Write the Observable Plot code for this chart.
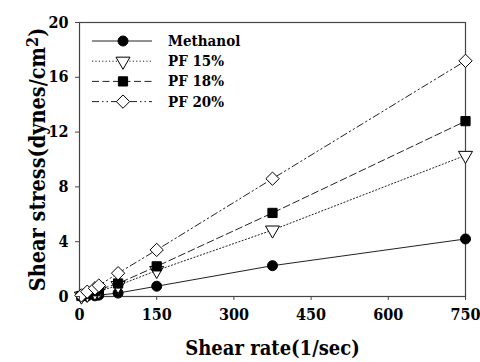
<!DOCTYPE html>
<html>
<head>
<meta charset="utf-8">
<script src="https://cdn.jsdelivr.net/npm/d3@7"></script>
<script src="https://cdn.jsdelivr.net/npm/@observablehq/plot@0.6"></script>
<style>
  body { margin: 0; background: #fff; }
  #chart { position: relative; width: 480px; height: 362px; }
</style>
</head>
<body>
<div id="chart"></div>
<script>
const shearRate = [3.75, 15, 30, 37.5, 75, 150, 375, 750];
const methanol  = [0.0, 0.03, 0.05, 0.1, 0.25, 0.75, 2.25, 4.2];
const pf15      = [0.03, 0.15, 0.3, 0.4, 0.8, 1.9, 4.85, 10.3];
const pf18      = [0.04, 0.2, 0.38, 0.5, 0.95, 2.2, 6.1, 12.8];
const pf20      = [0.08, 0.35, 0.6, 0.8, 1.7, 3.4, 8.6, 17.2];
const seriesNames = ["Methanol", "PF 15%", "PF 18%", "PF 20%"];
const seriesValues = [methanol, pf15, pf18, pf20];
const xTicks = [0, 150, 300, 450, 600, 750];
const yTicks = [0, 4, 8, 12, 16, 20];

const styles = {
  "Methanol": {dash: null, symbol: "circle", fill: "black", r: 5, rotate: 0},
  "PF 15%": {dash: "1.2,2.2", symbol: "triangle", fill: "white", r: 5.2, rotate: 180},
  "PF 18%": {dash: "7,3.5", symbol: "square", fill: "black", r: 5.2, rotate: 0},
  "PF 20%": {dash: "7,3,1.5,3,1.5,3", symbol: "diamond2", fill: "white", r: 6, rotate: 0}
};

const rows = [];
seriesNames.forEach((name, i) => {
  shearRate.forEach((x, j) => rows.push({series: name, x, y: seriesValues[i][j]}));
});

const font = "'DejaVu Serif Condensed', 'DejaVu Serif', serif";
const marks = [Plot.frame({stroke: "#444", strokeWidth: 1.2})];
seriesNames.forEach(name => {
  const s = styles[name];
  const d = rows.filter(r => r.series === name);
  marks.push(Plot.line(d, {x: "x", y: "y", stroke: "#222", strokeWidth: 1, strokeDasharray: s.dash}));
});
seriesNames.forEach(name => {
  const s = styles[name];
  const d = rows.filter(r => r.series === name);
  marks.push(Plot.dot(d, {x: "x", y: "y", symbol: () => s.symbol, r: s.r, fill: s.fill, stroke: "black", strokeWidth: 1, rotate: s.rotate}));
});
marks.push(Plot.axisX({ticks: xTicks, tickSize: 4, tickPadding: 8, fontSize: 16, fontWeight: "bold", label: null, stroke: "#444", fontFamily: font}));
marks.push(Plot.axisY({ticks: yTicks, tickSize: 4, tickPadding: 7, fontSize: 16, fontWeight: "bold", label: null, stroke: "#444", fontFamily: font}));
marks.push(Plot.text(["Shear rate(1/sec)"], {frameAnchor: "bottom", dy: 58, text: d => d, fontSize: 20, fontWeight: "bold", fill: "black", fontFamily: font}));
marks.push(Plot.text(["Shear stress(dynes/cm²)"], {frameAnchor: "left", textAnchor: "middle", lineAnchor: "middle", dx: -41, dy: 0, rotate: -90, text: d => d, fontSize: 21.5, fontWeight: "bold", fill: "black", fontFamily: font}));

const plot = Plot.plot({
  width: 480, height: 362,
  marginLeft: 79, marginRight: 15, marginTop: 22, marginBottom: 66,
  style: {background: "white", color: "black"},
  x: {domain: [0, 750]},
  y: {domain: [0, 20]},
  marks
});
document.getElementById("chart").appendChild(plot);

const svg = d3.select(plot);
// superscript for cm²
svg.selectAll("text").filter(function() { return this.textContent === "Shear stress(dynes/cm²)"; })
  .each(function() {
    const t = d3.select(this);
    t.text("Shear stress(dynes/cm");
    t.append("tspan").attr("dy", "-0.45em").attr("font-size", "0.75em").text("2");
    t.append("tspan").attr("dy", "0.34em").text(")");
  });

const lg = svg.append("g").attr("font-size", 15).attr("font-weight", "bold").attr("text-anchor", "start");
const symGen = {circle: d3.symbolCircle, triangle: d3.symbolTriangle, square: d3.symbolSquare, diamond2: d3.symbolDiamond2};
seriesNames.forEach((name, i) => {
  const s = styles[name];
  const yy = 41 + i * 20.2;
  lg.append("line").attr("x1", 92).attr("x2", 152).attr("y1", yy).attr("y2", yy)
    .attr("stroke", "#222").attr("stroke-width", 1).attr("stroke-dasharray", s.dash);
  const size = Math.PI * s.r * s.r;
  lg.append("path").attr("d", d3.symbol(symGen[s.symbol], size)())
    .attr("transform", `translate(123,${yy}) rotate(${s.rotate})`)
    .attr("fill", s.fill).attr("stroke", "black").attr("stroke-width", 1);
  lg.append("text").attr("x", 168).attr("y", yy + 5).attr("text-anchor", "start")
    .attr("style", `font-family: ${font}`).text(name);
});
</script>
</body>
</html>
